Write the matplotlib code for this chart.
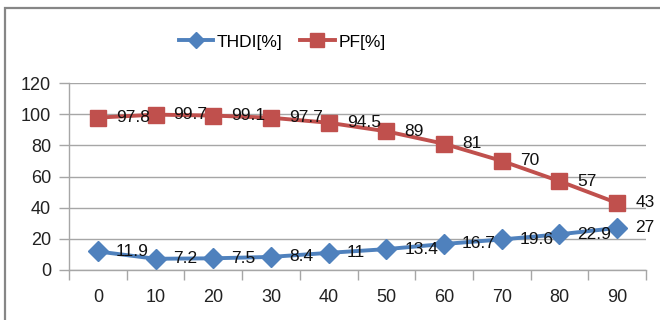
import matplotlib
matplotlib.use("Agg")
import matplotlib.pyplot as plt
from matplotlib.patches import Rectangle
from matplotlib.ticker import FixedLocator

plt.rcParams['font.family'] = ['Liberation Sans', 'DejaVu Sans']

categories = [0, 10, 20, 30, 40, 50, 60, 70, 80, 90]
thdi = [11.9, 7.2, 7.5, 8.4, 11, 13.4, 16.7, 19.6, 22.9, 27]
pf = [97.8, 99.7, 99.1, 97.7, 94.5, 89, 81, 70, 57, 43]
thdi_labels = ["11.9", "7.2", "7.5", "8.4", "11", "13.4", "16.7", "19.6", "22.9", "27"]
pf_labels = ["97.8", "99.7", "99.1", "97.7", "94.5", "89", "81", "70", "57", "43"]

blue = '#4F81BD'
red = '#C0504D'
grid = '#A6A6A6'

fig = plt.figure(figsize=(6.6, 3.2), dpi=100)
ax = fig.add_axes([69/660, 1-270/320, (646-69)/660, (270-83)/320])

x = list(range(len(categories)))
l1, = ax.plot(x, thdi, color=blue, lw=2.8, marker='D', markersize=10, label='THDI[%]', zorder=3, clip_on=False)
l2, = ax.plot(x, pf, color=red, lw=2.8, marker='s', markersize=12, label='PF[%]', zorder=3, clip_on=False)

for xi, v, t in zip(x, thdi, thdi_labels):
    ax.annotate(t, (xi, v), xytext=(13, 0), textcoords='offset points', ha='left', va='center', fontsize=12.5, color='#111111', zorder=4)
for xi, v, t in zip(x, pf, pf_labels):
    ax.annotate(t, (xi, v), xytext=(13, 0), textcoords='offset points', ha='left', va='center', fontsize=12.5, color='#111111', zorder=4)

ax.set_xlim(-0.5, len(categories)-0.5)
ax.set_ylim(0, 120)
ax.set_yticks(range(0, 121, 20))
ax.set_xticks(x)
ax.set_xticklabels([str(c) for c in categories])
ax.xaxis.set_minor_locator(FixedLocator([i-0.5 for i in range(len(categories)+1)]))
ax.tick_params(axis='x', which='major', length=0, pad=14, labelsize=13, labelcolor='#222222')
ax.tick_params(axis='x', which='minor', length=7, color=grid, width=1)
ax.tick_params(axis='y', which='major', length=7, color=grid, width=1, pad=6, labelsize=13, labelcolor='#222222')
ax.grid(axis='y', color=grid, lw=1, zorder=0)
for s in ['top', 'right']:
    ax.spines[s].set_visible(False)
for s in ['left', 'bottom']:
    ax.spines[s].set_color(grid)
    ax.spines[s].set_linewidth(1)

fig.legend(handles=[l1, l2], loc='center', bbox_to_anchor=(282/660, 1-42/320), ncol=2, frameon=False,
           fontsize=12.5, handlelength=2.0, columnspacing=1.0, handletextpad=0.2, markerscale=0.8)

fig.patches.append(Rectangle((5/660, -0.1), 1.2, (320-8)/320 + 0.1, transform=fig.transFigure,
                             fill=False, edgecolor='#868686', lw=1.6, clip_on=False))

fig.savefig('out.png', dpi=100)
